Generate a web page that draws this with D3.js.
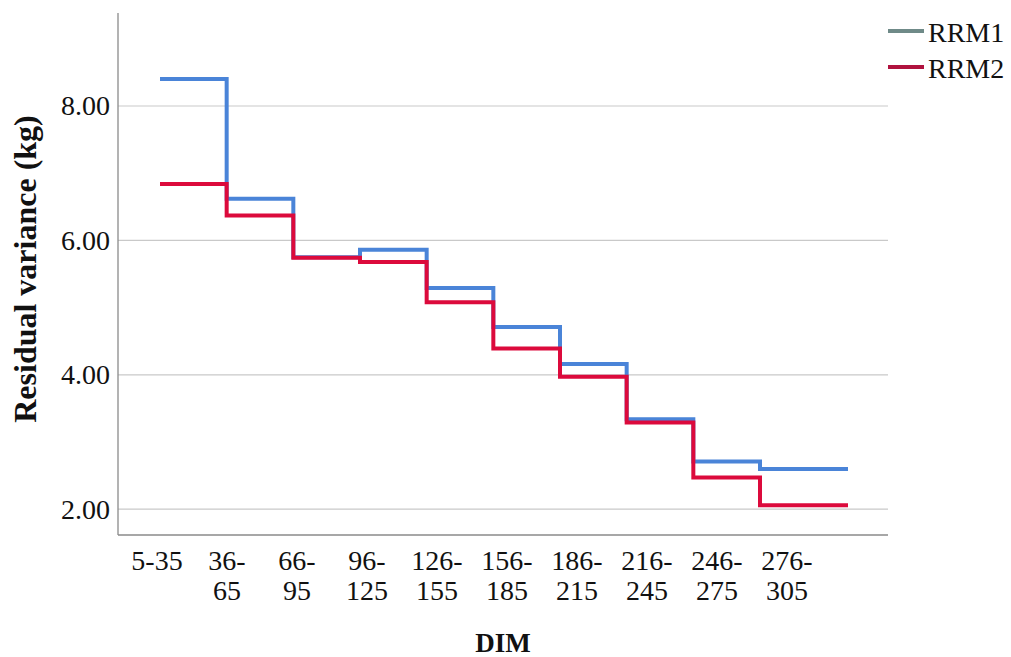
<!DOCTYPE html>
<html>
<head>
<meta charset="utf-8">
<script src="https://cdn.jsdelivr.net/npm/d3@7"></script>
<style>
  body { margin: 0; background: #fff; }
  text { font-family: "Liberation Serif", "DejaVu Serif", serif; fill: #111; }
</style>
</head>
<body>
<div id="chart"></div>
<script>
// data
const dimClasses = ["5-35", "36-65", "66-95", "96-125", "126-155", "156-185", "186-215", "216-245", "246-275", "276-305"];
const rrm1 = [8.40, 6.62, 5.75, 5.86, 5.29, 4.71, 4.16, 3.34, 2.71, 2.60];
const rrm2 = [6.84, 6.37, 5.74, 5.68, 5.08, 4.39, 3.97, 3.29, 2.47, 2.06];
const yTicks = [2, 4, 6, 8];
const seriesNames = ["RRM1", "RRM2"];

const W = 1011, H = 657;
const plot = {left: 118, right: 888, top: 13, bottom: 535};

const svg = d3.select("#chart")
  .append("svg")
    .attr("width", W)
    .attr("height", H);

// Y scale
const y = d3.scaleLinear()
  .domain([8 - (plot.bottom - 106) / 67.2, 8 + (106 - plot.top) / 67.2])
  .range([plot.bottom, plot.top]);

// x positions of the category labels
const xLab = d3.scalePoint()
  .domain(dimClasses)
  .range([157, 787]);

// x positions of the step line (index -> pixel)
const xs = d3.scaleLinear()
  .domain([0, 9, 10])
  .range([160, 760, 848]);

// gridlines
svg.append("g")
  .selectAll("line")
  .data(yTicks)
  .join("line")
    .attr("x1", plot.left)
    .attr("x2", plot.right)
    .attr("y1", d => y(d))
    .attr("y2", d => y(d))
    .attr("stroke", "#c9c9c9")
    .attr("stroke-width", 1.2);

// Y axis
const yAxis = svg.append("g")
  .attr("transform", `translate(${plot.left},0)`)
  .call(d3.axisLeft(y).tickValues(yTicks).tickSize(0).tickPadding(8).tickFormat(d3.format(".2f")));
yAxis.select(".domain").remove();
yAxis.selectAll("text")
  .style("font-family", '"Liberation Serif", serif')
  .style("font-size", "28px")
  .attr("fill", "#111");

// X axis labels (two lines)
const xAxis = svg.append("g")
  .attr("transform", `translate(0,${plot.bottom})`)
  .call(d3.axisBottom(xLab).tickSize(0).tickFormat(""));
xAxis.select(".domain").remove();

svg.append("g")
  .selectAll("text")
  .data(dimClasses)
  .join("text")
    .attr("x", d => xLab(d))
    .attr("y", 570)
    .attr("text-anchor", "middle")
    .style("font-size", "28px")
    .each(function(d) {
      const parts = d.split("-");
      const t = d3.select(this);
      if (parts[0] === "5") {
        t.text(d);
      } else {
        t.append("tspan").attr("x", xLab(d)).text(parts[0] + "-");
        t.append("tspan").attr("x", xLab(d)).attr("dy", 30).text(parts[1]);
      }
    });

// axis lines
svg.append("line")
  .attr("x1", plot.left).attr("x2", plot.left)
  .attr("y1", plot.top).attr("y2", plot.bottom)
  .attr("stroke", "#8a8a8a").attr("stroke-width", 1.3);
svg.append("line")
  .attr("x1", plot.left).attr("x2", plot.right)
  .attr("y1", plot.bottom).attr("y2", plot.bottom)
  .attr("stroke", "#8a8a8a").attr("stroke-width", 1.3);

// step lines
const line = d3.line()
  .x(d => xs(d[0]))
  .y(d => y(d[1]))
  .curve(d3.curveStepAfter);

function stepPoints(vals) {
  const pts = vals.map((v, i) => [i, v]);
  pts.push([vals.length, vals[vals.length - 1]]);
  return pts;
}

svg.append("path")
  .datum(stepPoints(rrm1))
  .attr("d", line)
  .attr("fill", "none")
  .attr("stroke", "#4a84d8")
  .attr("stroke-width", 4);

svg.append("path")
  .datum(stepPoints(rrm2))
  .attr("d", line)
  .attr("fill", "none")
  .attr("stroke", "#dc0a3c")
  .attr("stroke-width", 4);

// axis titles
svg.append("text")
  .attr("x", (plot.left + plot.right) / 2)
  .attr("y", 652)
  .attr("text-anchor", "middle")
  .style("font-size", "27px")
  .style("font-weight", "bold")
  .text("DIM");

svg.append("text")
  .attr("transform", "translate(36,269) rotate(-90)")
  .attr("text-anchor", "middle")
  .style("font-size", "32px")
  .style("font-weight", "bold")
  .text("Residual variance (kg)");

// legend
const legendColors = ["#6f8a88", "#b0123e"];
const legend = svg.append("g")
  .selectAll("g")
  .data(seriesNames)
  .join("g")
    .attr("transform", (d, i) => `translate(888,${31 + i * 36})`);
legend.append("line")
  .attr("x1", 0).attr("x2", 36)
  .attr("stroke", (d, i) => legendColors[i])
  .attr("stroke-width", 4);
legend.append("text")
  .attr("x", 40)
  .attr("y", 11)
  .style("font-size", "28px")
  .text(d => d);
</script>
</body>
</html>
